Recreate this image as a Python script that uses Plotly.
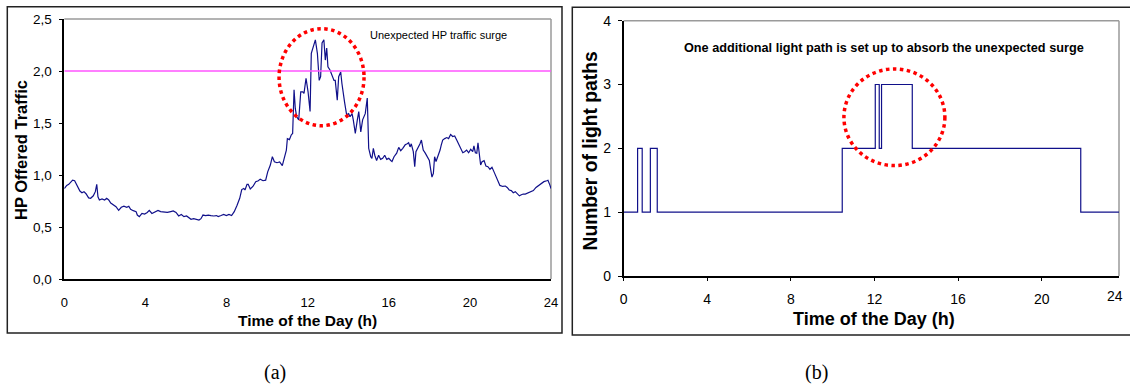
import plotly.graph_objects as go

# ---------------- data ----------------
hours = [0.0, 0.12, 0.22, 0.41, 0.51, 0.64, 0.77, 0.87, 0.97, 1.07, 1.2, 1.3, 1.43, 1.53, 1.6, 1.66, 1.73,
         1.86, 1.99, 2.09, 2.19, 2.29, 2.42, 2.55, 2.68, 2.81, 2.94, 3.08, 3.18, 3.27, 3.4, 3.54, 3.6, 3.7,
         3.83, 3.96, 4.09, 4.19, 4.32, 4.46, 4.62, 4.75, 4.92, 5.08, 5.25, 5.37, 5.51, 5.64, 5.77, 5.9,
         6.03, 6.16, 6.25, 6.38, 6.51, 6.64, 6.74, 6.84, 6.97, 7.1, 7.23, 7.37, 7.5, 7.59, 7.73, 7.86,
         7.99, 8.12, 8.25, 8.38, 8.52, 8.65, 8.75, 8.85, 8.91, 9.01, 9.07, 9.17, 9.3, 9.44, 9.57, 9.66,
         9.8, 9.93, 10.03, 10.16, 10.26, 10.36, 10.49, 10.62, 10.75, 10.85, 10.95, 11.0, 11.1, 11.19,
         11.26, 11.33, 11.39, 11.46, 11.56, 11.66, 11.76, 11.82, 11.92, 12.02, 12.12, 12.18, 12.28,
         12.38, 12.48, 12.57, 12.64, 12.71, 12.8, 12.87, 12.94, 13.0, 13.1, 13.2, 13.3, 13.36, 13.46,
         13.53, 13.63, 13.69, 13.76, 13.82, 13.92, 14.02, 14.09, 14.19, 14.25, 14.35, 14.45, 14.52,
         14.62, 14.71, 14.84, 14.94, 15.01, 15.11, 15.17, 15.24, 15.31, 15.4, 15.5, 15.6, 15.7, 15.8,
         15.9, 16.0, 16.1, 16.16, 16.26, 16.39, 16.49, 16.59, 16.69, 16.81, 16.91, 16.98, 17.05, 17.11,
         17.21, 17.28, 17.34, 17.44, 17.54, 17.61, 17.7, 17.8, 17.9, 18.0, 18.07, 18.13, 18.2, 18.26,
         18.33, 18.39, 18.46, 18.53, 18.59, 18.66, 18.76, 18.86, 18.95, 19.05, 19.15, 19.25, 19.35,
         19.45, 19.55, 19.65, 19.74, 19.84, 19.94, 20.04, 20.14, 20.2, 20.27, 20.34, 20.4, 20.47, 20.53,
         20.6, 20.7, 20.79, 20.89, 20.99, 21.09, 21.19, 21.29, 21.39, 21.48, 21.62, 21.75, 21.84, 21.94,
         22.04, 22.14, 22.24, 22.34, 22.44, 22.54, 22.63, 22.73, 22.86, 23.0, 23.13, 23.26, 23.39,
         23.52, 23.65, 23.79, 23.85, 23.95, 24.0]
hp_traffic = [0.87, 0.90, 0.91, 0.95, 0.945, 0.89, 0.846, 0.83, 0.84, 0.82, 0.78, 0.776, 0.80, 0.84, 0.91,
              0.79, 0.76, 0.77, 0.76, 0.776, 0.76, 0.73, 0.71, 0.695, 0.66, 0.69, 0.70, 0.69, 0.70, 0.67,
              0.657, 0.648, 0.615, 0.60, 0.63, 0.625, 0.64, 0.66, 0.63, 0.648, 0.66, 0.648, 0.645, 0.64,
              0.648, 0.654, 0.64, 0.606, 0.62, 0.60, 0.606, 0.59, 0.574, 0.58, 0.577, 0.567, 0.58, 0.615,
              0.61, 0.615, 0.61, 0.606, 0.61, 0.60, 0.61, 0.62, 0.61, 0.62, 0.61, 0.647, 0.71, 0.776, 0.86,
              0.87, 0.856, 0.91, 0.91, 0.865, 0.89, 0.936, 0.945, 0.96, 0.945, 0.95, 1.03, 1.096, 1.176,
              1.128, 1.118, 1.125, 1.09, 1.16, 1.24, 1.35, 1.34, 1.385, 1.40, 1.82, 1.64, 1.56, 1.53, 1.80,
              1.80, 1.785, 1.93, 1.80, 1.61, 2.17, 2.25, 2.30, 2.17, 1.91, 1.945, 2.27, 2.30, 2.105, 2.22,
              2.04, 2.01, 1.96, 1.91, 1.91, 1.72, 1.945, 1.99, 1.88, 1.75, 1.70, 1.58, 1.59, 1.56, 1.59,
              1.53, 1.40, 1.53, 1.61, 1.415, 1.53, 1.59, 1.74, 1.257, 1.176, 1.16, 1.257, 1.19, 1.14, 1.19,
              1.15, 1.16, 1.19, 1.15, 1.16, 1.14, 1.13, 1.176, 1.21, 1.266, 1.234, 1.257, 1.29, 1.30, 1.31,
              1.27, 1.30, 1.224, 1.08, 1.224, 1.257, 1.30, 1.336, 1.24, 1.21, 1.176, 1.14, 1.05, 0.98,
              1.016, 1.176, 1.13, 1.16, 1.21, 1.24, 1.29, 1.336, 1.35, 1.36, 1.35, 1.39, 1.37, 1.375, 1.336,
              1.30, 1.257, 1.214, 1.224, 1.24, 1.214, 1.247, 1.224, 1.28, 1.214, 1.21, 1.31, 1.176, 1.096,
              1.128, 1.138, 1.087, 1.08, 1.055, 1.074, 1.03, 0.984, 0.95, 0.90, 0.89, 0.894, 0.88, 0.856,
              0.85, 0.83, 0.84, 0.817, 0.80, 0.81, 0.817, 0.817, 0.83, 0.843, 0.85, 0.88, 0.90, 0.92, 0.936,
              0.945, 0.95, 0.90, 0.87]
threshold = 2.0

lp_hours = [0, 0.67, 0.89, 1.28, 1.61, 10.46, 12.04, 12.23, 12.34, 13.81, 21.87, 23.7]
lp_count = [1, 2, 1, 2, 1, 2, 3, 2, 3, 2, 1, 1]

x_ticks = [0, 4, 8, 12, 16, 20, 24]
y_ticks_a = [0, 0.5, 1.0, 1.5, 2.0, 2.5]
y_ticktext_a = ["0,0", "0,5", "1,0", "1,5", "2,0", "2,5"]
y_ticks_b = [0, 1, 2, 3, 4]

W, H = 1130, 385
FONT = "Arial, Liberation Sans, sans-serif"
NAVY = "#10108a"

def px(x):
    return x / W

def py(y):
    return 1 - y / H

fig = go.Figure()
fig.add_trace(go.Scatter(x=hours, y=hp_traffic, mode="lines", line=dict(color=NAVY, width=1.2),
                         xaxis="x", yaxis="y", showlegend=False))
fig.add_trace(go.Scatter(x=[0, 24], y=[threshold, threshold], mode="lines",
                         line=dict(color="#ff55ff", width=1.6), xaxis="x", yaxis="y", showlegend=False))
fig.add_trace(go.Scatter(x=lp_hours, y=lp_count, mode="lines", line=dict(color=NAVY, width=1.2, shape="hv"),
                         xaxis="x2", yaxis="y2", showlegend=False))

axis_common = dict(showgrid=False, zeroline=False, showline=True, linecolor="black", linewidth=1.5,
                   fixedrange=True, automargin=False)

fig.update_layout(
    width=W, height=H, margin=dict(l=0, r=0, t=0, b=0),
    paper_bgcolor="white", plot_bgcolor="white",
    font=dict(family=FONT, color="black"),
    xaxis=dict(domain=[px(64.3), px(551)], range=[0, 24], tickvals=x_ticks, ticks="",
               tickfont=dict(size=13, family=FONT), ticklabelstandoff=11, anchor="y", **axis_common),
    yaxis=dict(domain=[py(279), py(19)], range=[0, 2.5], tickvals=y_ticks_a, ticktext=y_ticktext_a,
               ticks="outside", ticklen=4, tickcolor="black", tickfont=dict(size=13.5, family=FONT),
               ticklabelstandoff=4, anchor="x", **axis_common),
    xaxis2=dict(domain=[px(623.6), px(1119)], range=[0, 23.7], tickvals=x_ticks[:-1], ticks="outside",
                ticklen=3, tickcolor="black", tickfont=dict(size=14, family=FONT), ticklabelstandoff=6,
                anchor="y2", **axis_common),
    yaxis2=dict(domain=[py(276), py(20.7)], range=[0, 4], tickvals=y_ticks_b, ticks="outside",
                ticklen=4, tickcolor="black", tickfont=dict(size=14, family=FONT), ticklabelstandoff=4,
                anchor="x2", **axis_common),
)

shapes = []
# panel frames
shapes.append(dict(type="rect", xref="paper", yref="paper", x0=px(7.3), x1=px(562), y0=py(333), y1=py(6.7),
                   line=dict(color="#222", width=1.5), layer="below"))
shapes.append(dict(type="rect", xref="paper", yref="paper", x0=px(572.3), x1=px(1135), y0=py(335), y1=py(7.3),
                   line=dict(color="#222", width=1.5), layer="below"))
# gray top/right plot-area borders
for xr, yr in (("x domain", "y domain"), ("x2 domain", "y2 domain")):
    shapes.append(dict(type="line", xref=xr, yref=yr, x0=0, x1=1, y0=1, y1=1,
                       line=dict(color="#9a9a9a", width=1.5), layer="below"))
    shapes.append(dict(type="line", xref=xr, yref=yr, x0=1, x1=1, y0=0, y1=1,
                       line=dict(color="#9a9a9a", width=1.5), layer="below"))
# red dotted circles
shapes.append(dict(type="circle", xref="x", yref="y", x0=10.59, x1=14.78, y0=1.474, y1=2.407,
                   line=dict(color="red", width=3.5, dash="dot")))
shapes.append(dict(type="circle", xref="x2", yref="y2", x0=10.54, x1=15.37, y0=1.73, y1=3.245,
                   line=dict(color="red", width=3.5, dash="dot")))
fig.update_layout(shapes=shapes)

ann = []
ann.append(dict(text="<b>HP Offered Traffic</b>", xref="paper", yref="paper", x=px(21), y=py(150),
                textangle=-90, showarrow=False, font=dict(size=16.5), xanchor="center", yanchor="middle"))
ann.append(dict(text="<b>Time of the Day (h)</b>", xref="paper", yref="paper", x=px(307.5), y=py(320),
                showarrow=False, font=dict(size=15.5), xanchor="center", yanchor="middle"))
ann.append(dict(text="Unexpected HP traffic surge", xref="paper", yref="paper", x=px(438), y=py(35.5),
                showarrow=False, font=dict(size=11), xanchor="center", yanchor="middle"))
ann.append(dict(text="<b>Number of light paths</b>", xref="paper", yref="paper", x=px(590), y=py(151.5),
                textangle=-90, showarrow=False, font=dict(size=19.3), xanchor="center", yanchor="middle"))
ann.append(dict(text="<b>Time of the Day (h)</b>", xref="paper", yref="paper", x=px(873.5), y=py(319),
                showarrow=False, font=dict(size=18), xanchor="center", yanchor="middle"))
ann.append(dict(text="<b>One additional light path is set up to absorb the unexpected surge</b>",
                xref="paper", yref="paper", x=px(883.5), y=py(48.5), showarrow=False, font=dict(size=12.7),
                xanchor="center", yanchor="middle"))
ann.append(dict(text="24", xref="paper", yref="paper", x=px(1114.5), y=py(296), showarrow=False,
                font=dict(size=14), xanchor="center", yanchor="middle"))
ann.append(dict(text="(a)", xref="paper", yref="paper", x=px(275), y=py(372), showarrow=False,
                font=dict(size=20, family="Liberation Serif, Times New Roman, serif"),
                xanchor="center", yanchor="middle"))
ann.append(dict(text="(b)", xref="paper", yref="paper", x=px(816), y=py(372), showarrow=False,
                font=dict(size=20, family="Liberation Serif, Times New Roman, serif"),
                xanchor="center", yanchor="middle"))
fig.update_layout(annotations=ann)

fig.write_html("out.html", config={"displayModeBar": False},
               post_script="document.body.style.margin='0px';document.body.style.overflow='hidden';")
